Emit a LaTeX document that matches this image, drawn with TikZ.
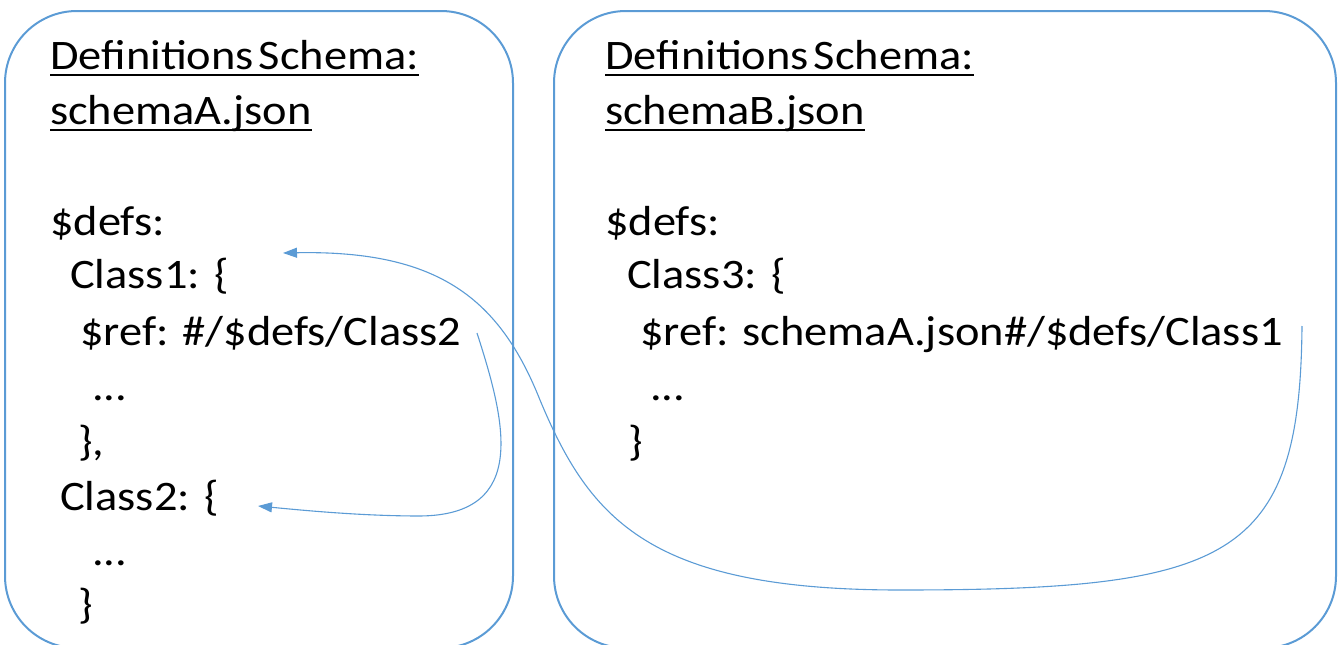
\documentclass[tikz,border=0pt]{standalone}
\usepackage{fontspec}
\setmainfont{Carlito}[FakeStretch=1.105]
\usetikzlibrary{arrows.meta}
\definecolor{accent}{HTML}{5B9BD5}
% underlined heading with a thick rule
\newcommand\headline[1]{\setbox0\hbox{#1}\rlap{\rule[-7pt]{\wd0}{2.2pt}}\box0}
\begin{document}
\begin{tikzpicture}[x=1pt,y=-1pt,
  panel/.style={draw=accent, line width=2pt, rounded corners=72pt,
    anchor=north west, inner sep=0pt, outer sep=0pt},
  code/.style={anchor=base west, inner sep=0pt, font=\fontsize{42}{50}\selectfont},
  link/.style={draw=accent, line width=1.1pt, -{Triangle[length=14pt,width=10pt]}}]
\clip (0,0) rectangle (1339,645);

% the two schema files
\node[panel, minimum width=508pt, minimum height=637pt] (panelA) at (5,11) {};
\node[panel, minimum width=782pt, minimum height=637pt] (panelB) at (554,11) {};

% schemaA.json
\node[code] (titleA) at (50,69)  {\headline{Definitions\hspace{5pt}Schema:}};
\node[code] (fileA)  at (50,124) {\headline{schemaA.json}};
\node[code] (defsA)  at (50,235) {\$defs:};
\node[code] (cls1)   at (70,288) {Class1: \{};
\node[code] (refA)   at (80,345) {\$ref: \#/\$defs/Class2};
\node[code] (dotsA)  at (92,400) {...};
\node[code] (endA)   at (78,455) {\},};
\node[code] (cls2)   at (60,510) {Class2: \{};
\node[code] (dotsB)  at (92,565) {...};
\node[code] (endB)   at (78,618) {\}};

% schemaB.json
\node[code] (titleB) at (605,69)  {\headline{Definitions\hspace{5pt}Schema:}};
\node[code] (fileB)  at (605,124) {\headline{schemaB.json}};
\node[code] (defsB)  at (605,235) {\$defs:};
\node[code] (cls3)   at (627,288) {Class3: \{};
\node[code] (refB)   at (640,345) {\$ref: schemaA.json\#/\$defs/Class1};
\node[code] (dotsC)  at (650,400) {...};
\node[code] (endC)   at (628,455) {\}};

% reference links
\coordinate (srcA) at (477,333);
\coordinate (tgtA) at (258,506);
\coordinate (srcB) at (1302,326);
\coordinate (tgtB) at (283,253);

\draw[link] (srcA) .. controls (505,420) and (530,515) .. (420,516)
  .. controls (360,516) and (300,510) .. (tgtA);
\draw[link] (srcB) .. controls (1300,560) and (1230,590) .. (900,590)
  .. controls (650,590) and (590,520) .. (540,400)
  .. controls (500,300) and (440,250) .. (tgtB);
\end{tikzpicture}
\end{document}
